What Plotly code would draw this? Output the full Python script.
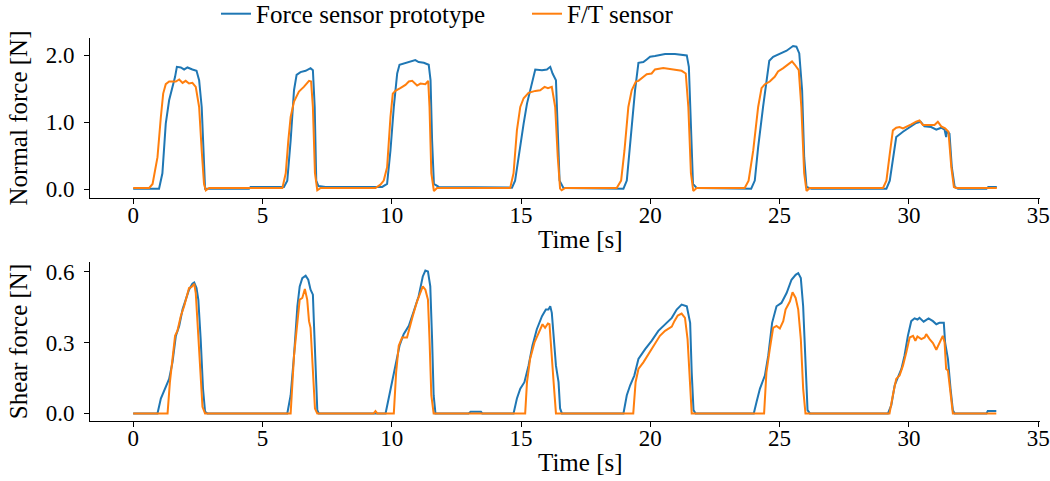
import plotly.graph_objects as go
from plotly.subplots import make_subplots

# ---------------- Data ----------------
# Normal force, force sensor prototype
t_norm_proto = [0, 1.0, 1.13, 1.26, 1.39, 1.52, 1.62, 1.69, 1.84, 1.97, 2.10, 2.29, 2.45, 2.55, 2.65, 2.72, 2.78,
                4.48, 4.54, 5.83, 5.96, 6.09, 6.22, 6.32, 6.47, 6.67, 6.86, 6.95, 7.02, 7.08, 7.16, 7.44,
                8.5, 9.63, 9.82, 9.95, 10.08, 10.21, 10.30, 10.46, 10.59, 10.79, 10.91, 11.04, 11.24, 11.43, 11.50, 11.56, 11.63, 11.82,
                14.65, 14.77, 14.93, 15.10, 15.23, 15.32, 15.42, 15.55, 15.81, 16.00, 16.13, 16.22, 16.35, 16.42, 16.49, 16.64,
                18.96, 19.09, 19.25, 19.41, 19.54, 19.73, 19.86, 19.99, 20.18, 20.57, 20.95, 21.41, 21.49, 21.57, 21.65, 21.79,
                23.90, 24.04, 24.17, 24.36, 24.49, 24.60, 24.75, 25.01, 25.27, 25.52, 25.65, 25.76, 25.87, 25.95, 26.04, 26.23,
                29.13, 29.26, 29.38, 29.51, 29.77, 30.09, 30.28, 30.45, 30.60, 30.86, 31.06, 31.25, 31.38, 31.44, 31.47, 31.57, 31.66, 31.77, 31.90,
                33.0, 33.07, 33.4]
v_norm_proto = [0.01, 0.01, 0.24, 0.98, 1.33, 1.51, 1.68, 1.83, 1.82, 1.79, 1.82, 1.79, 1.77, 1.63, 1.23, 0.58, 0.01,
                0.01, 0.035, 0.035, 0.13, 0.73, 1.48, 1.71, 1.75, 1.77, 1.81, 1.78, 1.23, 0.13, 0.05, 0.035,
                0.035, 0.035, 0.08, 0.58, 1.23, 1.73, 1.86, 1.88, 1.89, 1.92, 1.93, 1.90, 1.89, 1.86, 1.63, 0.73, 0.08, 0.035,
                0.025, 0.13, 0.58, 0.98, 1.28, 1.43, 1.58, 1.79, 1.78, 1.79, 1.83, 1.73, 1.63, 0.98, 0.13, 0.02,
                0.01, 0.13, 0.83, 1.48, 1.89, 1.90, 1.94, 1.98, 1.99, 2.02, 2.02, 2.00, 1.83, 0.98, 0.08, 0.02,
                0.01, 0.13, 0.63, 1.23, 1.63, 1.92, 1.98, 2.02, 2.07, 2.14, 2.13, 2.03, 1.48, 0.48, 0.035, 0.01,
                0.01, 0.13, 0.48, 0.78, 0.86, 0.94, 0.99, 1.01, 0.94, 0.93, 0.89, 0.92, 0.89, 0.78, 0.87, 0.83, 0.33, 0.035, 0.01,
                0.01, 0.035, 0.035]

# Normal force, F/T sensor
t_norm_ft = [0, 0.62, 0.75, 0.94, 1.07, 1.16, 1.26, 1.39, 1.65, 1.78, 1.91, 2.03, 2.16, 2.29, 2.42, 2.55, 2.65, 2.74, 2.81, 2.94,
             5.77, 5.90, 6.00, 6.09, 6.22, 6.41, 6.60, 6.80, 6.88, 6.95, 7.03, 7.12, 7.25,
             9.37, 9.56, 9.69, 9.82, 9.95, 10.04, 10.14, 10.33, 10.53, 10.66, 10.79, 10.98, 11.11, 11.30, 11.41, 11.46, 11.53, 11.63, 11.75,
             14.58, 14.71, 14.84, 14.97, 15.10, 15.29, 15.55, 15.74, 15.91, 16.04, 16.19, 16.32, 16.42, 16.51, 16.57, 16.71,
             18.70, 18.87, 19.00, 19.15, 19.28, 19.44, 19.54, 19.73, 19.86, 20.05, 20.18, 20.50, 20.83, 21.21, 21.37, 21.47, 21.57, 21.66, 21.79,
             23.65, 23.80, 23.98, 24.17, 24.30, 24.43, 24.62, 24.81, 24.94, 25.14, 25.33, 25.48, 25.59, 25.74, 25.84, 25.95, 26.04, 26.17,
             29.00, 29.13, 29.26, 29.38, 29.51, 29.64, 29.77, 29.90, 30.09, 30.28, 30.41, 30.54, 30.80, 30.99, 31.12, 31.25, 31.40, 31.53, 31.64, 31.74, 31.83,
             33.4]
v_norm_ft = [0.02, 0.02, 0.08, 0.48, 1.08, 1.43, 1.57, 1.61, 1.61, 1.64, 1.59, 1.62, 1.58, 1.59, 1.53, 1.23, 0.58, 0.08, -0.015, 0.02,
             0.02, 0.24, 0.73, 1.08, 1.31, 1.46, 1.53, 1.62, 1.61, 1.23, 0.24, -0.015, 0.02,
             0.02, 0.07, 0.13, 0.33, 1.08, 1.43, 1.47, 1.51, 1.56, 1.61, 1.62, 1.55, 1.58, 1.57, 1.62, 1.23, 0.24, -0.025, 0.02,
             0.02, 0.24, 0.88, 1.23, 1.36, 1.44, 1.47, 1.48, 1.53, 1.51, 1.53, 1.23, 0.48, 0.01, -0.015, 0.02,
             0.02, 0.13, 0.58, 1.23, 1.48, 1.61, 1.62, 1.68, 1.72, 1.73, 1.79, 1.81, 1.79, 1.77, 1.73, 1.23, 0.24, -0.025, 0.02,
             0.02, 0.13, 0.58, 1.23, 1.51, 1.57, 1.61, 1.68, 1.76, 1.81, 1.86, 1.91, 1.86, 1.78, 1.23, 0.24, -0.025, 0.02,
             0.02, 0.13, 0.53, 0.88, 0.92, 0.93, 0.91, 0.93, 0.97, 1.01, 1.03, 0.96, 0.96, 0.96, 1.01, 0.94, 0.91, 0.86, 0.33, 0.035, 0.02,
             0.02]

# Shear force, force sensor prototype
t_shear_proto = [0, 0.94, 1.07, 1.26, 1.39, 1.52, 1.65, 1.78, 1.91, 2.03, 2.16, 2.29, 2.36, 2.45, 2.52, 2.61, 2.70, 2.78, 2.87,
                 5.96, 6.09, 6.22, 6.35, 6.44, 6.54, 6.67, 6.77, 6.86, 6.95, 6.99, 7.05, 7.12, 7.18,
                 9.76, 9.88, 10.01, 10.17, 10.30, 10.46, 10.66, 10.85, 11.04, 11.20, 11.30, 11.40, 11.49, 11.56, 11.62, 11.69,
                 12.97, 13.05, 13.45, 13.5,
                 14.71, 14.84, 14.97, 15.13, 15.29, 15.44, 15.61, 15.81, 15.96, 16.06, 16.13, 16.19, 16.26, 16.35, 16.45, 16.51, 16.58,
                 18.96, 19.09, 19.22, 19.38, 19.54, 19.80, 20.05, 20.31, 20.57, 20.83, 21.02, 21.21, 21.41, 21.54, 21.60, 21.67, 21.75,
                 24.00, 24.11, 24.24, 24.43, 24.56, 24.71, 24.88, 25.07, 25.27, 25.46, 25.62, 25.72, 25.82, 25.91, 26.00, 26.08, 26.17,
                 29.19, 29.32, 29.45, 29.55, 29.71, 29.83, 29.96, 30.09, 30.22, 30.33, 30.41, 30.57, 30.76, 30.93, 31.06, 31.18, 31.35, 31.40, 31.51, 31.61, 31.70, 31.77,
                 33.0, 33.05, 33.38]
v_shear_proto = [0, 0, 0.063, 0.11, 0.146, 0.216, 0.328, 0.37, 0.44, 0.48, 0.523, 0.548, 0.553, 0.53, 0.48, 0.314, 0.105, 0.007, 0,
                 0, 0.077, 0.244, 0.453, 0.537, 0.572, 0.582, 0.565, 0.523, 0.502, 0.383, 0.174, 0.014, 0,
                 0, 0.063, 0.132, 0.202, 0.286, 0.335, 0.37, 0.432, 0.495, 0.579, 0.604, 0.6, 0.537, 0.314, 0.077, 0,
                 0, 0.007, 0.007, 0,
                 0, 0.063, 0.105, 0.132, 0.202, 0.286, 0.356, 0.411, 0.439, 0.439, 0.453, 0.425, 0.314, 0.202, 0.132, 0.021, 0,
                 0, 0.077, 0.119, 0.16, 0.23, 0.272, 0.307, 0.349, 0.377, 0.404, 0.439, 0.46, 0.453, 0.383, 0.174, 0.014, 0,
                 0, 0.049, 0.105, 0.16, 0.244, 0.383, 0.453, 0.467, 0.509, 0.565, 0.586, 0.593, 0.572, 0.453, 0.174, 0.014, 0,
                 0, 0.035, 0.119, 0.146, 0.188, 0.244, 0.328, 0.39, 0.402, 0.397, 0.404, 0.388, 0.402, 0.39, 0.377, 0.383, 0.383, 0.3, 0.23, 0.105, 0.014, 0,
                 0, 0.01, 0.01]

# Shear force, F/T sensor
t_shear_ft = [0, 1.33, 1.42, 1.52, 1.62, 1.71, 1.84, 1.97, 2.10, 2.16, 2.25, 2.36, 2.42, 2.49, 2.58, 2.68, 2.78,
              6.09, 6.22, 6.35, 6.44, 6.54, 6.64, 6.73, 6.80, 6.86, 6.95, 7.03, 7.12,
              9.30, 9.37, 9.44,
              10.08, 10.17, 10.27, 10.40, 10.59, 10.68, 10.81, 10.98, 11.11, 11.20, 11.30, 11.40, 11.46, 11.53, 11.62,
              15.16, 15.23, 15.35, 15.52, 15.68, 15.83, 15.93, 16.04, 16.10, 16.17, 16.26, 16.35,
              19.34, 19.43, 19.54, 19.73, 19.92, 20.18, 20.37, 20.57, 20.83, 20.93, 21.06, 21.21, 21.34, 21.44, 21.54, 21.60,
              24.40, 24.49, 24.62, 24.75, 24.88, 25.01, 25.14, 25.23, 25.40, 25.50, 25.62, 25.72, 25.82, 25.91, 26.00,
              29.25, 29.38, 29.51, 29.64, 29.77, 29.90, 30.03, 30.16, 30.25, 30.33, 30.48, 30.61, 30.67, 30.80, 30.93, 31.06, 31.18, 31.31, 31.38, 31.44, 31.51, 31.61, 31.70,
              33.38]
v_shear_ft = [0, 0, 0.132, 0.244, 0.328, 0.349, 0.411, 0.453, 0.502, 0.53, 0.534, 0.548, 0.509, 0.383, 0.174, 0.028, 0,
              0, 0.244, 0.383, 0.481, 0.488, 0.526, 0.481, 0.39, 0.362, 0.174, 0.021, 0,
              0, 0.01, 0,
              0, 0.174, 0.286, 0.321, 0.321, 0.362, 0.411, 0.474, 0.509, 0.537, 0.523, 0.481, 0.314, 0.077, 0,
              0, 0.132, 0.23, 0.3, 0.342, 0.377, 0.362, 0.38, 0.377, 0.286, 0.132, 0,
              0, 0.132, 0.188, 0.216, 0.251, 0.293, 0.328, 0.349, 0.367, 0.39, 0.414, 0.422, 0.404, 0.314, 0.105, 0,
              0, 0.174, 0.272, 0.362, 0.37, 0.359, 0.39, 0.439, 0.474, 0.512, 0.488, 0.439, 0.314, 0.105, 0,
              0, 0.077, 0.146, 0.16, 0.202, 0.258, 0.321, 0.328, 0.307, 0.325, 0.314, 0.321, 0.335, 0.314, 0.297, 0.269, 0.3, 0.328, 0.3, 0.188, 0.181, 0.077, 0,
              0]

series_names = ["Force sensor prototype", "F/T sensor"]
series_colors = ["#1f77b4", "#ff7f0e"]
x_ticks = [0, 5, 10, 15, 20, 25, 30, 35]
y_ticks_norm = [0.0, 1.0, 2.0]
y_ticks_shear = [0.0, 0.3, 0.6]
x_title = "Time [s]"
y_titles = ["Normal force [N]", "Shear force [N]"]

FONT = "Liberation Serif, Times New Roman, serif"

fig = make_subplots(rows=2, cols=1, shared_xaxes=False)

fig.add_trace(go.Scatter(x=t_norm_proto, y=v_norm_proto, mode="lines", name=series_names[0],
                         line=dict(color=series_colors[0], width=2), legendgroup="a"), row=1, col=1)
fig.add_trace(go.Scatter(x=t_norm_ft, y=v_norm_ft, mode="lines", name=series_names[1],
                         line=dict(color=series_colors[1], width=2), legendgroup="b"), row=1, col=1)
fig.add_trace(go.Scatter(x=t_shear_proto, y=v_shear_proto, mode="lines", name=series_names[0],
                         line=dict(color=series_colors[0], width=2), legendgroup="a", showlegend=False), row=2, col=1)
fig.add_trace(go.Scatter(x=t_shear_ft, y=v_shear_ft, mode="lines", name=series_names[1],
                         line=dict(color=series_colors[1], width=2), legendgroup="b", showlegend=False), row=2, col=1)

axis_common = dict(showline=True, linecolor="black", linewidth=1, ticks="outside", ticklen=5,
                   tickwidth=1, tickcolor="black", showgrid=False, zeroline=False, mirror=False,
                   automargin=False,
                   tickfont=dict(family=FONT, size=23, color="black"))

fig.update_xaxes(**axis_common, range=[-1.67, 35.07], tickvals=x_ticks, ticklabelstandoff=-9)
fig.update_yaxes(**axis_common, ticklabelstandoff=5)
fig.update_yaxes(range=[-0.13, 2.26], tickvals=y_ticks_norm, tickformat=".1f",
                 title=dict(text=y_titles[0], font=dict(family=FONT, size=25, color="black"), standoff=10),
                 row=1, col=1)
fig.update_yaxes(range=[-0.032, 0.64], tickvals=y_ticks_shear, tickformat=".1f",
                 title=dict(text=y_titles[1], font=dict(family=FONT, size=25, color="black"), standoff=10),
                 row=2, col=1)

# x-axis titles placed as in the reference (slightly right of the axis centre)
for yy in (0.5822, 0.0):
    fig.add_annotation(text=x_title, xref="paper", yref="paper", x=0.516, y=yy,
                       xanchor="center", yanchor="top", yshift=-26, showarrow=False,
                       font=dict(family=FONT, size=25, color="black"))

fig.update_layout(
    width=1050, height=481,
    margin=dict(l=90, r=10, t=38, b=60, autoexpand=False),
    paper_bgcolor="white", plot_bgcolor="white",
    font=dict(family=FONT, size=23, color="black"),
    xaxis=dict(domain=[0, 1]), yaxis=dict(domain=[0.5822, 1.0]),
    xaxis2=dict(domain=[0, 1]), yaxis2=dict(domain=[0.0, 0.4151]),
    legend=dict(orientation="h", xref="container", yref="container", x=216 / 1050, y=0.971,
                xanchor="left", yanchor="middle", font=dict(family=FONT, size=25, color="black"),
                itemwidth=30, entrywidth=266, entrywidthmode="pixels",
                bgcolor="rgba(0,0,0,0)", tracegroupgap=0),
    showlegend=True,
)

fig.write_html("out.html", post_script="document.body.style.margin='0';",
               config={"displayModeBar": False})
